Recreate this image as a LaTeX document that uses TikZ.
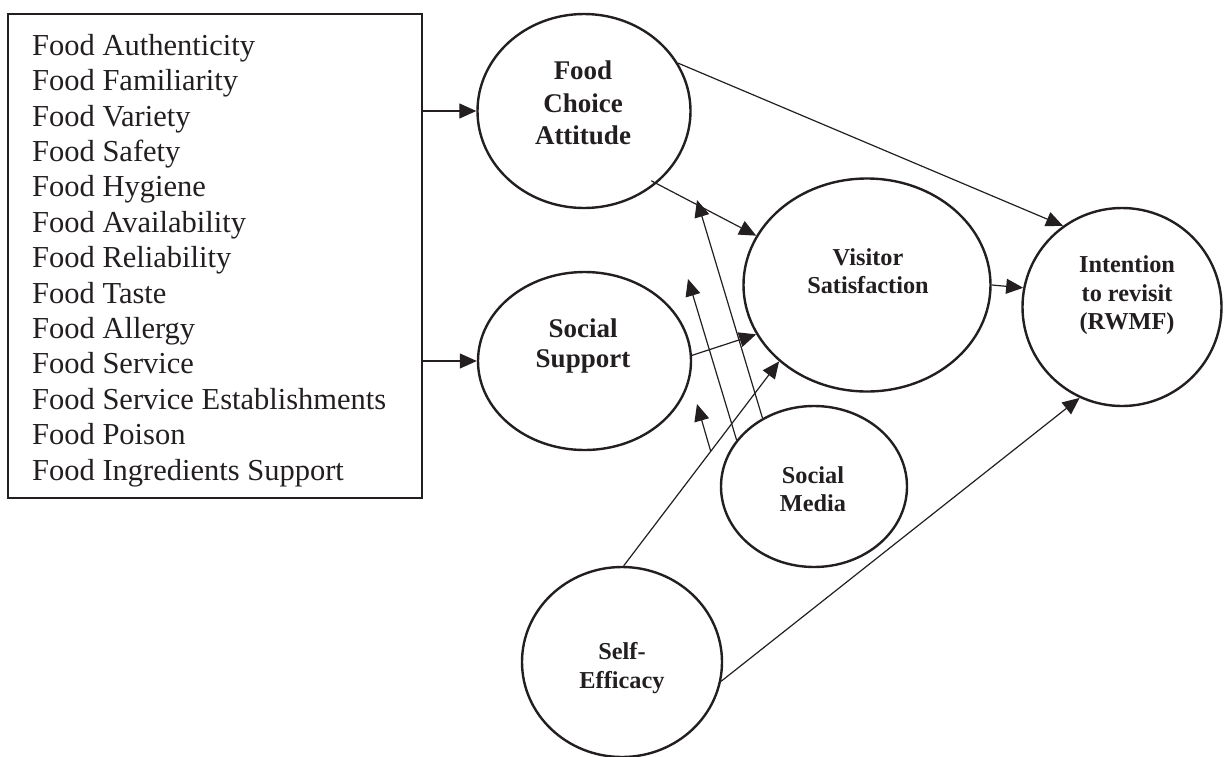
\documentclass[tikz,border=0pt]{standalone}
\usepackage{fontspec}
\setmainfont{Liberation Serif}
\usetikzlibrary{shapes.geometric,arrows.meta,calc}
\definecolor{ink}{RGB}{35,31,32}
\begin{document}
\begin{tikzpicture}[x=1pt,y=-1pt,
  construct/.style={draw=ink, line width=2.4pt, ellipse, inner sep=0pt},
  lbl/.style={text=ink, font=\bfseries\fontsize{24.3}{28.5}\selectfont, align=center, inner sep=0pt},
  biglbl/.style={text=ink, font=\bfseries\fontsize{27}{32.3}\selectfont, align=center, inner sep=0pt},
  link/.style={draw=ink, line width=1.2pt, -{Triangle[length=17pt,width=15pt]}}]
\useasboundingbox (0,0) rectangle (1224,756);

% factor box
\node[draw=ink, line width=2.2pt, minimum width=414pt, minimum height=484pt, inner sep=0pt] (box) at (215,256) {};
\node[anchor=west, inner sep=0pt, align=left, text=ink, font=\fontsize{30.5}{35.4}\selectfont] (list) at (32,260.5)
 {Food Authenticity\\Food Familiarity\\Food Variety\\Food Safety\\Food Hygiene\\Food Availability\\Food Reliability\\Food Taste\\Food Allergy\\Food Service\\Food Service Establishments\\Food Poison\\Food Ingredients Support};

% constructs
\node[construct, minimum width=213pt, minimum height=194pt] (fca) at (584,111) {};
\node[construct, minimum width=213pt, minimum height=178pt] (ss) at (584.5,361) {};
\node[construct, minimum width=247pt, minimum height=213pt] (vs) at (867,285) {};
\node[construct, minimum width=199pt, minimum height=198pt] (int) at (1122,307) {};
\node[construct, minimum width=186pt, minimum height=161pt] (sm) at (814,486.5) {};
\node[construct, minimum width=200pt, minimum height=190pt] (se) at (622,662) {};

% labels
\node[biglbl] (fcat) at (583,103) {Food\\Choice\\Attitude};
\node[biglbl, font=\bfseries\fontsize{27}{30}\selectfont] (sst) at (583,346) {Social\\Support};
\node[lbl] (vst) at (868,271) {Visitor\\Satisfaction};
\node[lbl] (intt) at (1127,295.5) {Intention\\to revisit\\(RWMF)};
\node[lbl] (smt) at (813,489) {Social\\Media};
\node[lbl] (set) at (622,668) {Self-\\Efficacy};

% connectors
\draw[link] (box.east |- fca.180) -- (fca.180);
\draw[link] (box.east |- ss.180) -- (ss.180);
\draw[link] (fca.27) -- (int.126);
\draw[link, shorten <=-6pt] (fca.-45) -- (vs.156);
\draw[link] (ss.3) -- (vs.204);
\draw[link] (se.89) -- (vs.221);
\draw[link] (vs.0) -- (int.169);
\draw[link] (se.-11) -- (int.245);

% moderating paths of social media
\coordinate (m1) at (697,200);
\coordinate (m2) at (688,279);
\coordinate (m3) at (697,404);
\coordinate (m3s) at ($(se.89)!0.56!(vs.221)$);
\draw[link] (sm.127) -- (m1);
\draw[link] (sm.149) -- (m2);
\draw[link] (m3s) -- (m3);
\end{tikzpicture}
\end{document}
